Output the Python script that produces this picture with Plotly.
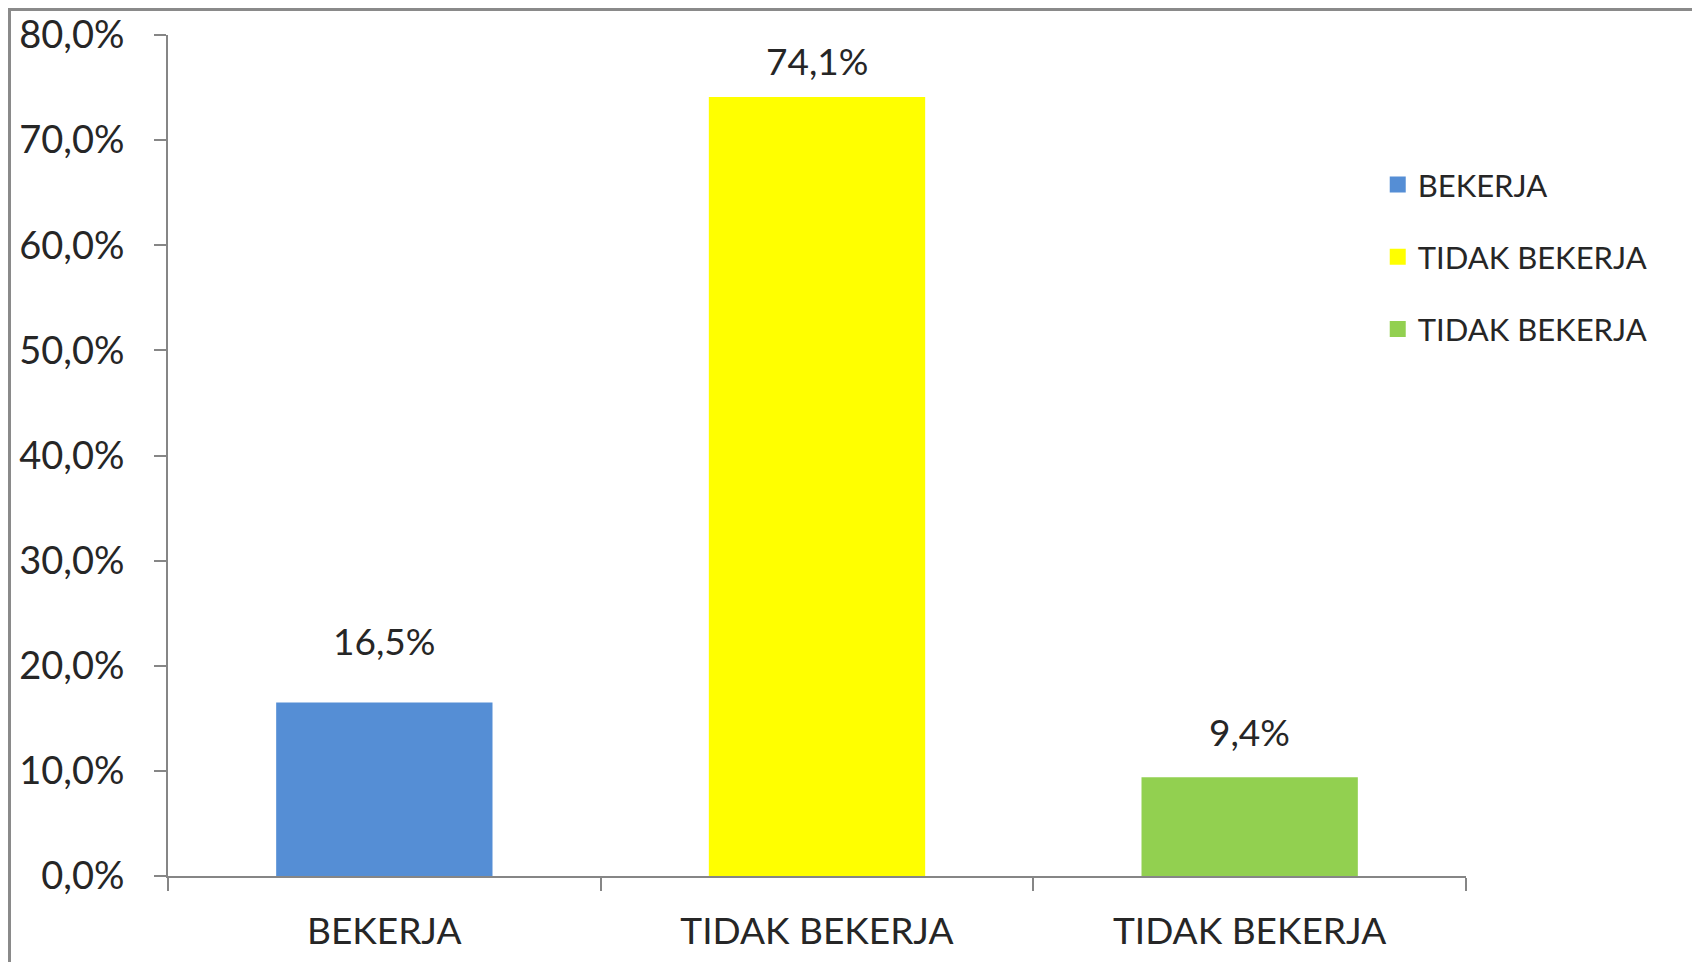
import plotly.graph_objects as go

# Data
categories = ["BEKERJA", "TIDAK BEKERJA", "TIDAK BEKERJA"]
values = [0.165, 0.741, 0.094]
colors = ["#558ED5", "#FFFF00", "#92D050"]
y_ticks = [0, 0.1, 0.2, 0.3, 0.4, 0.5, 0.6, 0.7, 0.8]

# label offsets above bar tops (px), as placed in the original
label_shift = [62, 37, 46]

FONT = "Lato, 'Open Sans', sans-serif"
TEXT = "#262626"
AXIS = "#868686"

fig = go.Figure()

positions = list(range(len(categories)))
for i, (cat, val, col) in enumerate(zip(categories, values, colors)):
    fig.add_trace(go.Bar(
        x=[positions[i]], y=[val],
        name=cat, showlegend=False,
        marker=dict(color=col, line=dict(width=0)),
        width=0.5,
    ))
    # legend entry with a larger square swatch
    fig.add_trace(go.Scatter(
        x=[None], y=[None], mode="markers", name=cat,
        legendgroup=f"g{i}",
        marker=dict(symbol="square", size=19, color=col),
    ))
    fig.add_annotation(
        x=positions[i], y=val, text=f"{val * 100:.1f}%".replace(".", ","),
        showarrow=False, yanchor="middle", yshift=label_shift[i],
        font=dict(family=FONT, size=37, color=TEXT),
    )

fig.update_layout(
    width=1692, height=954,
    paper_bgcolor="white", plot_bgcolor="white",
    separators=",.",
    barmode="overlay",
    margin=dict(l=160, r=234, t=27, b=86),
    font=dict(family=FONT, color=TEXT),
    legend=dict(
        x=0.932, y=0.854, xanchor="left", yanchor="top",
        font=dict(family=FONT, size=31, color=TEXT),
        tracegroupgap=29, traceorder="grouped",
        bgcolor="rgba(0,0,0,0)",
    ),
    xaxis=dict(
        range=[-0.5, 2.5], automargin=False,
        tickvals=positions, ticktext=categories,
        ticks="", showgrid=False, zeroline=False,
        showline=True, linecolor=AXIS, linewidth=2,
        tickfont=dict(family=FONT, size=37, color=TEXT),
        ticklabelstandoff=22,
        minor=dict(tickvals=[-0.5, 0.5, 1.5, 2.5], ticks="outside",
                   ticklen=13, tickcolor=AXIS, tickwidth=2, showgrid=False),
    ),
    yaxis=dict(
        range=[0, 0.8], automargin=False,
        tickvals=y_ticks, tickformat=".1%",
        ticks="outside", ticklen=12, tickcolor=AXIS, tickwidth=2,
        showgrid=False, zeroline=False,
        showline=True, linecolor=AXIS, linewidth=2,
        tickfont=dict(family=FONT, size=38, color=TEXT),
        ticklabelstandoff=22,
    ),
    shapes=[dict(
        type="rect", xref="paper", yref="paper",
        x0=-0.1225, x1=1.1764, y0=-0.2, y1=1.0309,
        line=dict(color="#8A8A8A", width=4), layer="above",
    )],
)

fig.write_html("out.html")
